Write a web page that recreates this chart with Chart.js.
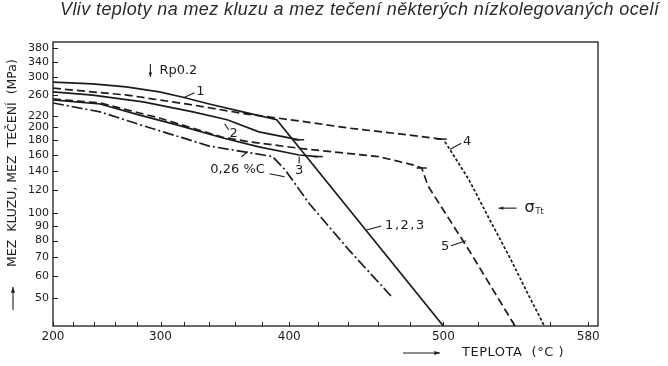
<!DOCTYPE html>
<html>
<head>
<meta charset="utf-8">
<script src="https://cdn.jsdelivr.net/npm/chart.js@4.4.1/dist/chart.umd.min.js"></script>
<style>
  html, body { margin: 0; padding: 0; background: #fff; }
</style>
</head>
<body>
<canvas id="chart" width="668" height="366"></canvas>
<script>
// Axis ticks (temperature in °C, strength in MPa)
const xTickValues = [200, 220, 240, 260, 280, 300, 320, 340, 360, 380, 400, 420, 440, 460, 480, 500, 520, 540, 560, 580];
const xLabelValues = [200, 300, 400, 500, 580];
const yTickValues = [50, 60, 70, 80, 90, 100, 120, 140, 160, 180, 200, 220, 260, 300, 340, 380];

// Curve 1 (Rp0,2) running into the common branch 1,2,3
const curve1Temp = [200, 239, 270, 299, 318, 340, 366, 391, 500];
const curve1Mpa = [289, 285, 278, 267, 256, 242, 227, 213, 40];
// Curve 2
const curve2Temp = [200, 239, 285, 327, 354, 378, 407];
const curve2Mpa = [267, 260, 246, 227, 213, 193, 181];
// Curve 3
const curve3Temp = [200, 246, 282, 316, 350, 378, 407, 420];
const curve3Mpa = [250, 242, 221, 203, 184, 171, 160, 158];
// Curve 4 (yield, then creep limit)
const curve4Temp = [200, 271, 327, 369, 407, 441, 473, 499, 501, 515, 526, 539, 548, 557];
const curve4Mpa = [275, 260, 240, 223, 211, 199, 190, 182, 178, 131, 97, 68, 52, 40];
// Curve 5
const curve5Temp = [200, 246, 299, 350, 371, 407, 460, 481, 487, 491, 515, 541];
const curve5Mpa = [252, 244, 216, 185, 178, 169, 158, 148, 144, 124, 74, 40];
// 0,26 %C steel
const carbonTemp = [200, 246, 285, 340, 371, 388, 397, 414, 441, 468];
const carbonMpa = [244, 227, 203, 172, 163, 158, 142, 108, 74, 51];

const INK = '#1c1c1c';
const TEXT_FONT = '"DejaVu Sans", sans-serif';

// the temperature axis of the original is stretched towards high temperatures
const TEMP_K = 0.0018;
class TempScale extends Chart.LinearScale {
    _e(v) { return Math.exp(TEMP_K * v); }
    getPixelForValue(value) {
        const lo = this._e(this.min), hi = this._e(this.max);
        return this.getPixelForDecimal((this._e(value) - lo) / (hi - lo));
    }
    getValueForPixel(pixel) {
        const lo = this._e(this.min), hi = this._e(this.max);
        return Math.log(lo + this.getDecimalForPixel(pixel) * (hi - lo)) / TEMP_K;
    }
}
TempScale.id = 'temperature';
TempScale.defaults = Chart.LinearScale.defaults;
Chart.register(TempScale);

function points(ts, vs) {
    return ts.map((t, i) => ({ x: t, y: vs[i] }));
}

// tick mark drawn across a curve at one point
function tickAt(idx) {
    return (ctx) => ctx.dataIndex === idx ? 5 : 0;
}

// text labels: anchor in data units, leaders in pixels relative to the anchor
const notes = [
    { text: 'Rp0.2', t: 315, v: 316, leaders: [], arrows: [[-28, -7, -28, 6]] },
    { text: '1', t: 333, v: 267, leaders: [[-17, 6, -6, 1]] },
    { text: '2', t: 359, v: 190, leaders: [[-9, -10, -5, -4]] },
    { text: '3', t: 407, v: 141, leaders: [[0, -14, 0, -7]] },
    { text: '0,26 %C', t: 362, v: 142, leaders: [[4, -13, 10, -18], [32, 4, 47, 7]] },
    { text: '1,2,3', t: 477, v: 90, spacing: '1.5px', leaders: [[-39, 4, -24, 0]] },
    { text: '4', t: 514, v: 179, leaders: [[-17, 8, -6, 2]] },
    { text: '5', t: 501, v: 76, leaders: [[6, -1, 21, -6]] }
];

function drawArrow(c, x1, y1, x2, y2, head) {
    c.beginPath();
    c.moveTo(x1, y1);
    c.lineTo(x2, y2);
    c.stroke();
    const a = Math.atan2(y2 - y1, x2 - x1);
    c.beginPath();
    c.moveTo(x2, y2);
    c.lineTo(x2 - head * Math.cos(a - 0.35), y2 - head * Math.sin(a - 0.35));
    c.lineTo(x2 - head * Math.cos(a + 0.35), y2 - head * Math.sin(a + 0.35));
    c.closePath();
    c.fill();
}

const decorPlugin = {
    id: 'decor',
    afterDraw(chart) {
        const c = chart.ctx;
        const a = chart.chartArea;
        const x = chart.scales.x;
        const y = chart.scales.y;
        c.save();
        c.strokeStyle = INK;
        c.fillStyle = INK;
        c.lineWidth = 1.3;
        c.strokeRect(a.left, a.top, a.right - a.left, a.bottom - a.top);

        // inward tick marks
        c.lineWidth = 1;
        c.beginPath();
        yTickValues.forEach(v => {
            const py = Math.round(y.getPixelForValue(v)) + 0.5;
            c.moveTo(a.left, py);
            c.lineTo(a.left + 5, py);
        });
        xTickValues.forEach(v => {
            const px = Math.round(x.getPixelForValue(v)) + 0.5;
            c.moveTo(px, a.bottom);
            c.lineTo(px, a.bottom - 4);
        });
        c.stroke();

        // title
        c.font = 'italic 18px "Liberation Sans", Arial, sans-serif';
        c.letterSpacing = '0.4px';
        c.fillStyle = '#2a2a2a';
        c.textAlign = 'left';
        c.textBaseline = 'middle';
        c.fillText('Vliv teploty na mez kluzu a mez tečení některých nízkolegovaných ocelí', 60, 10);
        c.fillStyle = INK;
        c.letterSpacing = '0px';

        // curve labels
        c.font = '13px ' + TEXT_FONT;
        c.textAlign = 'center';
        c.lineWidth = 1.1;
        notes.forEach(n => {
            const px = x.getPixelForValue(n.t);
            const py = y.getPixelForValue(n.v);
            c.letterSpacing = n.spacing || '0px';
            c.fillText(n.text, px, py);
            n.leaders.forEach(l => {
                c.beginPath();
                c.moveTo(px + l[0], py + l[1]);
                c.lineTo(px + l[2], py + l[3]);
                c.stroke();
            });
            (n.arrows || []).forEach(l => drawArrow(c, px + l[0], py + l[1], px + l[2], py + l[3], 5));
        });
        c.letterSpacing = '0px';

        // sigma Tt (creep limit)
        const sx = x.getPixelForValue(549);
        const sy = y.getPixelForValue(104);
        drawArrow(c, sx - 13, sy, sx - 31, sy, 5);
        c.font = '16px ' + TEXT_FONT;
        c.fillText('σ', sx, sy);
        c.font = '8px ' + TEXT_FONT;
        c.textAlign = 'left';
        c.fillText('Tt', sx + 6, sy + 4);

        // x axis title
        c.font = '13px ' + TEXT_FONT;
        c.letterSpacing = '0.5px';
        c.textAlign = 'left';
        drawArrow(c, 403, 353, 440, 353, 6);
        c.fillText('TEPLOTA  (°C )', 462, 353);

        // y axis title, rotated
        c.translate(13, 310);
        c.rotate(-Math.PI / 2);
        drawArrow(c, 0, 0, 23, 0, 6);
        c.letterSpacing = '0px';
        c.font = '12.5px ' + TEXT_FONT;
        c.fillText('MEZ  KLUZU, MEZ  TEČENÍ  (MPa)', 43, 0);
        c.restore();
    }
};

const lineBase = {
    fill: false,
    borderColor: INK,
    borderWidth: 1.7,
    tension: 0,
    pointStyle: 'line',
    pointBorderColor: INK,
    pointBorderWidth: 1.5,
    pointRadius: 0
};

new Chart(document.getElementById('chart'), {
    type: 'line',
    data: {
        datasets: [
            { ...lineBase, label: '1', data: points(curve1Temp, curve1Mpa) },
            { ...lineBase, label: '2', data: points(curve2Temp, curve2Mpa), pointRadius: tickAt(curve2Temp.length - 1) },
            { ...lineBase, label: '3', data: points(curve3Temp, curve3Mpa), pointRadius: tickAt(curve3Temp.length - 1) },
            {
                ...lineBase, label: '4', data: points(curve4Temp, curve4Mpa), pointRadius: tickAt(7),
                segment: { borderDash: (ctx) => ctx.p0DataIndex >= 8 ? [3, 2] : [8, 4] }
            },
            { ...lineBase, label: '5', data: points(curve5Temp, curve5Mpa), borderDash: [8, 4], pointRadius: tickAt(8) },
            { ...lineBase, label: '0,26 %C', data: points(carbonTemp, carbonMpa), borderDash: [11, 3, 2, 3] }
        ]
    },
    plugins: [decorPlugin],
    options: {
        responsive: false,
        animation: false,
        layout: { padding: { top: 42, right: 70, left: 0, bottom: 0 } },
        plugins: {
            legend: { display: false },
            tooltip: { enabled: false }
        },
        scales: {
            x: {
                type: 'temperature',
                min: 200,
                max: 585,
                afterBuildTicks: (axis) => { axis.ticks = xTickValues.map(v => ({ value: v })); },
                afterFit: (axis) => { axis.height = 40; },
                grid: { display: false, drawTicks: false },
                border: { display: false },
                ticks: {
                    autoSkip: false,
                    maxRotation: 0,
                    padding: 4,
                    color: INK,
                    font: { family: TEXT_FONT, size: 12 },
                    callback: (v) => xLabelValues.includes(v) ? String(v) : ''
                }
            },
            y: {
                type: 'logarithmic',
                min: 40,
                max: 400,
                afterBuildTicks: (axis) => { axis.ticks = yTickValues.map(v => ({ value: v })); },
                afterFit: (axis) => { axis.width = 53; },
                grid: { display: false, drawTicks: false },
                border: { display: false },
                ticks: {
                    autoSkip: false,
                    padding: 4,
                    color: INK,
                    font: { family: TEXT_FONT, size: 11 },
                    callback: (v) => String(v)
                }
            }
        }
    }
});
</script>
</body>
</html>
